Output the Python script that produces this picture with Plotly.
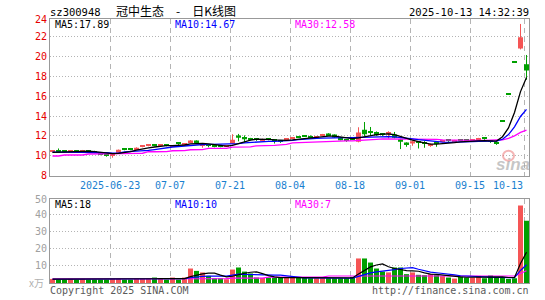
import plotly.graph_objects as go

# ---------------- data ----------------
opens = [10.40, 10.50, 10.45, 10.40, 10.45, 10.40, 10.50, 10.47, 10.25, 10.05,
         10.00, 10.25, 10.70, 10.70, 10.65, 10.90, 11.00, 11.08, 11.00, 11.05,
         10.95, 11.25, 11.15, 11.33, 11.53, 11.07, 11.05, 10.95, 10.93, 10.90,
         11.20, 12.05, 11.90, 11.70, 11.65, 11.58, 11.70, 11.63, 11.45, 11.60,
         11.75, 11.92, 12.00, 12.00, 11.85, 12.08, 12.23, 12.13, 11.83, 11.60,
         11.73, 11.40, 12.63, 12.42, 12.40, 12.15, 12.20, 12.13, 11.67, 11.33,
         11.23, 11.35, 11.25, 11.05, 11.25, 11.40, 11.52, 11.48, 11.60, 11.55,
         11.50, 11.60, 11.75, 11.45, 11.30, 13.50, 16.20, 19.44, 20.83, 19.23]
highs = [10.55, 10.73, 10.50, 10.55, 10.50, 10.58, 10.55, 10.50, 10.28, 10.08,
         10.22, 10.62, 10.75, 10.78, 10.85, 11.00, 11.10, 11.15, 11.10, 11.08,
         11.05, 11.30, 11.25, 11.58, 11.55, 11.20, 11.10, 11.00, 10.95, 11.00,
         12.17, 12.20, 12.05, 11.80, 11.70, 11.72, 11.75, 11.65, 11.50, 11.70,
         11.85, 11.95, 12.05, 12.05, 11.95, 12.20, 12.27, 12.15, 11.85, 11.65,
         11.75, 12.87, 13.40, 12.90, 12.45, 12.20, 12.47, 12.40, 11.70, 11.35,
         11.50, 11.40, 11.47, 11.23, 11.47, 11.60, 11.60, 11.60, 11.65, 11.58,
         11.60, 11.80, 11.85, 11.50, 11.35, 13.50, 16.20, 19.44, 23.30, 20.17]
lows = [10.35, 10.35, 10.35, 10.38, 10.35, 10.38, 10.40, 10.25, 10.05, 9.90,
        9.80, 10.22, 10.55, 10.55, 10.60, 10.85, 10.95, 10.95, 10.95, 10.95,
        10.90, 11.10, 11.10, 11.30, 11.20, 10.80, 10.85, 10.85, 10.85, 10.88,
        11.15, 11.45, 11.35, 11.55, 11.50, 11.45, 11.55, 11.23, 11.30, 11.55,
        11.70, 11.80, 11.90, 11.80, 11.80, 12.00, 12.00, 11.80, 11.55, 11.40,
        11.60, 11.35, 11.97, 12.07, 12.00, 12.00, 11.73, 11.75, 10.67, 10.90,
        11.00, 10.73, 10.80, 10.90, 10.90, 11.35, 11.40, 11.45, 11.50, 11.45,
        11.45, 11.55, 11.60, 11.30, 11.10, 13.50, 16.20, 19.44, 20.73, 17.67]
closes = [10.50, 10.45, 10.40, 10.50, 10.42, 10.50, 10.45, 10.30, 10.10, 10.00,
          10.20, 10.60, 10.65, 10.65, 10.80, 10.95, 11.05, 11.05, 11.05, 11.00,
          11.00, 11.20, 11.20, 11.53, 11.23, 11.13, 11.00, 10.90, 10.90, 10.95,
          11.60, 11.80, 11.67, 11.67, 11.60, 11.60, 11.67, 11.50, 11.40, 11.65,
          11.80, 11.88, 11.95, 11.85, 11.90, 12.13, 12.07, 11.83, 11.57, 11.55,
          11.67, 12.33, 12.17, 12.38, 12.07, 12.12, 12.23, 11.80, 11.40, 11.07,
          11.47, 11.33, 11.23, 11.07, 11.22, 11.57, 11.50, 11.52, 11.57, 11.50,
          11.55, 11.73, 11.72, 11.40, 11.25, 13.50, 16.20, 19.44, 21.95, 18.60]
volumes = [2.4, 2.0, 2.0, 2.4, 2.0, 2.4, 2.0, 2.0, 2.0, 2.0,
           2.4, 2.4, 2.0, 2.0, 2.4, 2.4, 2.4, 3.2, 2.4, 2.0,
           3.2, 2.0, 3.2, 8.5, 7.1, 6.2, 4.2, 2.8, 2.8, 2.2,
           7.9, 9.1, 6.7, 5.6, 3.2, 3.0, 3.2, 3.2, 3.2, 3.2,
           3.2, 3.2, 3.2, 2.8, 2.8, 2.8, 2.8, 2.8, 2.8, 2.8,
           3.6, 14.4, 14.4, 12.0, 8.5, 6.7, 6.2, 9.1, 9.1, 5.2,
           6.2, 4.8, 4.6, 5.2, 4.6, 4.0, 3.2, 2.6, 3.8, 3.2,
           3.2, 4.2, 2.8, 4.4, 3.6, 3.0, 2.4, 2.8, 45.5, 36.5]

ma5 = [10.33, 10.35, 10.40, 10.42, 10.45, 10.45, 10.45, 10.42, 10.33, 10.25,
       10.20, 10.23, 10.30, 10.42, 10.57, 10.70, 10.78, 10.88, 10.98, 11.02,
       11.02, 11.05, 11.08, 11.20, 11.25, 11.25, 11.20, 11.12, 11.03, 10.97,
       11.05, 11.23, 11.38, 11.57, 11.67, 11.68, 11.64, 11.60, 11.55, 11.55,
       11.60, 11.67, 11.75, 11.84, 11.88, 11.93, 11.98, 11.98, 11.90, 11.80,
       11.72, 11.80, 11.90, 12.05, 12.12, 12.17, 12.19, 12.12, 11.92, 11.72,
       11.58, 11.42, 11.27, 11.17, 11.17, 11.20, 11.25, 11.33, 11.40, 11.45,
       11.47, 11.50, 11.52, 11.50, 11.47, 11.92, 12.81, 14.36, 16.47, 17.89]
ma10 = [10.37, 10.37, 10.37, 10.38, 10.38, 10.38, 10.37, 10.37, 10.35, 10.32,
        10.27, 10.27, 10.38, 10.40, 10.42, 10.47, 10.53, 10.62, 10.72, 10.80,
        10.88, 10.93, 11.00, 11.05, 11.08, 11.12, 11.13, 11.13, 11.13, 11.13,
        11.18, 11.22, 11.30, 11.35, 11.40, 11.45, 11.45, 11.45, 11.47, 11.50,
        11.55, 11.62, 11.68, 11.72, 11.75, 11.77, 11.80, 11.82, 11.83, 11.82,
        11.83, 11.85, 11.88, 11.90, 11.92, 11.92, 11.92, 11.90, 11.85, 11.78,
        11.70, 11.62, 11.55, 11.47, 11.40, 11.38, 11.35, 11.35, 11.38, 11.40,
        11.42, 11.45, 11.45, 11.47, 11.47, 11.66, 12.13, 12.92, 13.96, 14.67]
ma30 = [9.97, 9.97, 10.07, 10.07, 10.07, 10.07, 10.17, 10.17, 10.17, 10.17,
        10.23, 10.23, 10.23, 10.23, 10.23, 10.25, 10.40, 10.40, 10.40, 10.42,
        10.50, 10.50, 10.52, 10.60, 10.60, 10.62, 10.73, 10.73, 10.73, 10.75,
        10.87, 10.87, 10.88, 10.90, 11.00, 11.00, 11.02, 11.05, 11.10, 11.15,
        11.30, 11.33, 11.35, 11.38, 11.40, 11.45, 11.47, 11.47, 11.48, 11.50,
        11.50, 11.52, 11.55, 11.60, 11.65, 11.70, 11.70, 11.72, 11.72, 11.72,
        11.72, 11.72, 11.70, 11.68, 11.65, 11.60, 11.58, 11.57, 11.55, 11.55,
        11.55, 11.55, 11.55, 11.55, 11.57, 11.61, 11.75, 12.00, 12.35, 12.58]

vma5 = [2.30, 2.30, 2.30, 2.30, 2.16, 2.16, 2.16, 2.16, 2.16, 2.08,
        2.08, 2.16, 2.16, 2.16, 2.24, 2.24, 2.24, 2.48, 2.56, 2.48,
        2.64, 2.56, 2.56, 3.78, 4.80, 5.40, 5.84, 5.76, 4.62, 3.64,
        3.98, 4.96, 5.74, 6.30, 6.50, 5.52, 4.34, 3.64, 3.16, 3.20,
        3.20, 3.20, 3.20, 3.12, 3.04, 2.96, 2.88, 2.80, 2.80, 2.80,
        2.96, 5.28, 7.60, 9.44, 10.58, 11.20, 9.56, 8.50, 7.92, 7.26,
        7.16, 6.88, 5.98, 5.20, 5.08, 4.64, 4.32, 3.92, 3.64, 3.36,
        3.20, 3.40, 3.44, 3.56, 3.64, 3.60, 3.24, 3.24, 11.46, 18.04]
vma10 = [2.20, 2.20, 2.20, 2.20, 2.20, 2.20, 2.20, 2.20, 2.20, 2.20,
         2.12, 2.16, 2.16, 2.16, 2.20, 2.20, 2.24, 2.32, 2.36, 2.36,
         2.44, 2.40, 2.48, 3.09, 3.56, 3.94, 4.04, 4.08, 4.16, 4.06,
         4.65, 5.24, 5.06, 4.91, 4.61, 4.49, 4.53, 4.57, 4.67, 4.20,
         3.61, 3.26, 3.02, 2.98, 2.96, 2.92, 2.88, 2.84, 2.80, 2.76,
         2.80, 3.92, 5.04, 5.96, 6.53, 6.92, 7.26, 7.89, 8.52, 8.76,
         9.02, 8.06, 7.08, 6.40, 6.01, 5.74, 5.44, 4.79, 4.26, 4.06,
         3.76, 3.70, 3.52, 3.44, 3.34, 3.24, 3.16, 3.18, 7.35, 10.68]
vma30 = [2.4, 2.4, 2.4, 2.4, 2.4, 2.4, 2.4, 2.4, 2.4, 2.4,
         2.4, 2.4, 2.4, 2.4, 2.4, 2.4, 2.4, 2.4, 2.4, 2.4,
         2.4, 2.4, 2.4, 2.6, 2.6, 2.6, 2.6, 2.6, 2.6, 2.6,
         2.9, 2.9, 2.9, 2.9, 2.9, 2.9, 3.4, 3.4, 3.4, 3.4,
         3.4, 3.4, 3.4, 3.4, 3.4, 3.4, 4.1, 4.1, 4.1, 4.1,
         4.1, 4.1, 4.1, 4.1, 4.1, 4.1, 4.1, 4.1, 4.1, 4.1,
         4.1, 4.1, 4.1, 4.1, 4.1, 4.1, 4.1, 4.1, 4.1, 4.1,
         4.1, 4.1, 4.1, 4.1, 4.1, 4.1, 4.1, 4.1, 5.6, 7.2]

date_tick_idx = [10, 20, 30, 40, 50, 60, 70, 79]
date_labels = ["2025-06-23", "07-07", "07-21", "08-04", "08-18", "09-01", "09-15", "10-13"]
price_ticks = [8, 10, 12, 14, 16, 18, 20, 22, 24]
vol_ticks = [10, 20, 30, 40, 50]

code = "sz300948"
title = "冠中生态\u3000-\u3000日K线图"
stamp = "2025-10-13 14:32:39"

# ---------------- styling / layout ----------------
RED = "#f55555"
GREEN = "#00a000"
GRID = "#b4b4b4"
BORDER = "#999999"
MONO = "DejaVu Sans Mono"

W, H = 545, 300
L, R, T, B = 50, 16, 19, 14.5
PW, PH = W - L - R, H - T - B
P_TOP, P_BOT = 19, 177
V_TOP, V_BOT = 201, 285.5


def px(x):
    return (x - L) / PW


def py(y):
    return (H - B - y) / PH


N = len(closes)
xs = list(range(N))
half = 2.5 / 6.0
xrange_ = [-half, N - 1 + half]
grid_x = [i - half for i in date_tick_idx]

PX_PER_UNIT = 10.0
price_hi = 8 + (P_BOT - P_TOP) / PX_PER_UNIT
vol_hi = (V_BOT - V_TOP) / 1.72
p_vals = [min(v, price_hi) for v in price_ticks]
v_vals = [min(v, vol_hi) for v in vol_ticks]
MIN_BODY = 1.0 / PX_PER_UNIT   # a flat candle still shows as a 1px line

up = [c > o for o, c in zip(opens, closes)]
colors = [RED if u else GREEN for u in up]

fig = go.Figure()

# wicks (one line per colour, separated by gaps)
for flag, col in ((True, RED), (False, GREEN)):
    wx, wy = [], []
    for i in xs:
        if up[i] == flag:
            wx += [i, i, None]
            wy += [lows[i], highs[i], None]
    fig.add_trace(go.Scatter(x=wx, y=wy, mode="lines", line=dict(color=col, width=1),
                             hoverinfo="skip", showlegend=False, xaxis="x", yaxis="y"))

# candle bodies
fig.add_trace(go.Bar(
    x=xs,
    base=[min(o, c) for o, c in zip(opens, closes)],
    y=[max(abs(c - o), MIN_BODY) for o, c in zip(opens, closes)],
    width=5 / 6.0, marker=dict(color=colors, line=dict(width=0)),
    hoverinfo="skip", showlegend=False, xaxis="x", yaxis="y"))

for series, col in ((ma30, "#ff00ff"), (ma10, "#0000ff"), (ma5, "#000000")):
    fig.add_trace(go.Scatter(x=xs, y=series, mode="lines",
                             line=dict(color=col, width=1.3),
                             hoverinfo="skip", showlegend=False,
                             xaxis="x", yaxis="y"))

fig.add_trace(go.Bar(x=xs, y=volumes, width=5 / 6.0,
                     marker=dict(color=colors, line=dict(width=0)),
                     hoverinfo="skip", showlegend=False, xaxis="x2", yaxis="y2"))

for series, col in ((vma30, "#ff00ff"), (vma10, "#0000ff"), (vma5, "#000000")):
    fig.add_trace(go.Scatter(x=xs, y=series, mode="lines",
                             line=dict(color=col, width=1.2),
                             hoverinfo="skip", showlegend=False,
                             xaxis="x2", yaxis="y2"))

xcommon = dict(range=xrange_, tickvals=grid_x, showticklabels=False, ticks="",
               showgrid=True, gridcolor=GRID, gridwidth=1, griddash="5px,4px",
               showline=True, mirror=True, linecolor=BORDER, linewidth=1,
               zeroline=False, fixedrange=True)

fig.update_layout(
    width=W, height=H,
    margin=dict(l=L, r=R, t=T, b=B, pad=0),
    paper_bgcolor="white", plot_bgcolor="white",
    showlegend=False, hovermode=False,
    barmode="overlay",
    xaxis=dict(domain=[0, 1], anchor="y", **xcommon),
    xaxis2=dict(domain=[0, 1], anchor="y2", **xcommon),
    yaxis=dict(domain=[py(P_BOT), py(P_TOP)], anchor="x", range=[8, price_hi],
               tickvals=p_vals, ticktext=[str(v) for v in price_ticks], ticks="",
               tickfont=dict(family=MONO, size=10, color="#e60000"),
               showgrid=True, gridcolor=GRID, griddash="1px,2px", gridwidth=1,
               showline=True, mirror=True, linecolor=BORDER, linewidth=1,
               zeroline=False, fixedrange=True),
    yaxis2=dict(domain=[py(V_BOT), py(V_TOP)], anchor="x2", range=[0, vol_hi],
                tickvals=v_vals, ticktext=[str(v) for v in vol_ticks], ticks="",
                tickfont=dict(family=MONO, size=10, color="#a0a0a0"),
                showgrid=True, gridcolor=GRID, griddash="1px,2px", gridwidth=1,
                showline=True, mirror=True, linecolor=BORDER, linewidth=1,
                zeroline=False, fixedrange=True),
)

ann = []


def text(x, y, s, color="#000", size=10, family=MONO, xanchor="left", xref="paper"):
    ann.append(dict(x=x, y=y, xref=xref, yref="paper", text=s, showarrow=False,
                    xanchor=xanchor, yanchor="middle", borderpad=0,
                    font=dict(family=family, size=size, color=color)))


# header
text(px(49), py(11.5), code, size=10.5)
text(px(176), py(10), title, size=12, family="Noto Sans CJK SC", xanchor="center")
text(px(530), py(12), stamp, size=10.5, xanchor="right")

# MA legends
text(px(54), py(24.5), "MA5:%.2f" % ma5[-1], color="#000000")
text(px(174), py(24.5), "MA10:%.2f" % ma10[-1], color="#0000ff")
text(px(294), py(24.5), "MA30:%.2f" % ma30[-1], color="#ff00ff")
text(px(54), py(206.5), "MA5:%d" % int(vma5[-1]), color="#000000")
text(px(174), py(206.5), "MA10:%d" % int(vma10[-1]), color="#0000ff")
text(px(294), py(206.5), "MA30:%d" % int(vma30[-1]), color="#ff00ff")

# date labels
for k, (gx, lab) in enumerate(zip(grid_x, date_labels)):
    last = k == len(date_labels) - 1
    text(gx, py(186.7), lab, color="#1a7fcf", xref="x",
         xanchor="right" if last else "center")

# footer
text(px(49), py(293), "Copyright 2025 SINA.COM", color="#5a5a5a")
text(px(530), py(293), "http://finance.sina.com.cn", color="#5a5a5a", xanchor="right")
text(px(28), py(285), "x万", color="#b0b0b0", size=10, family="Noto Sans CJK SC")

# sina watermark
text(px(512.5), py(166), "<b><i>sina</i></b>", color="rgba(160,160,160,0.6)",
     size=17, family="Liberation Sans", xanchor="center")
fig.update_layout(annotations=ann)
fig.add_shape(type="circle", xref="paper", yref="paper",
              x0=px(503), x1=px(514), y0=py(162), y1=py(152),
              line=dict(color="rgba(235,120,120,0.55)", width=2))

fig.write_html("out.html")
